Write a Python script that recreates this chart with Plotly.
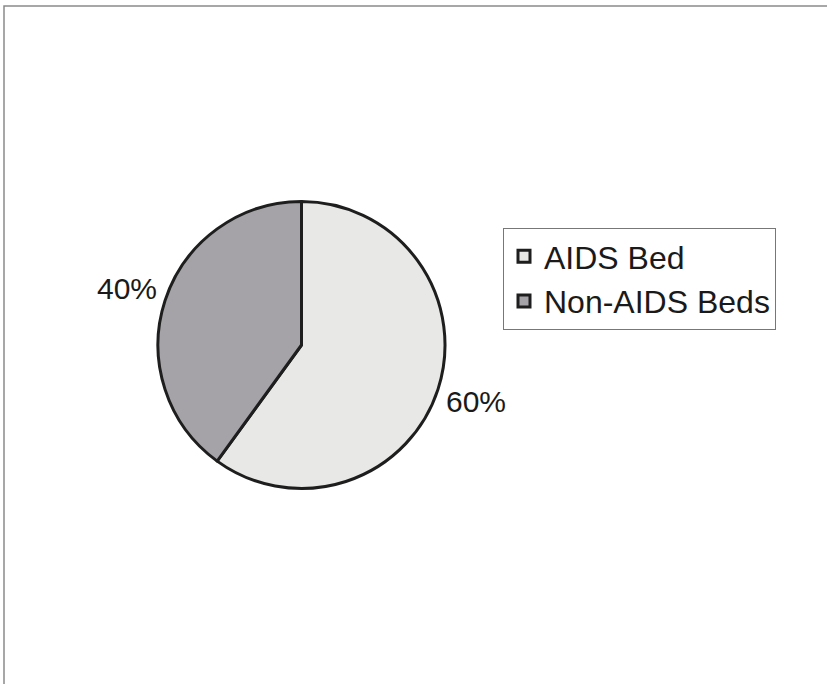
import math
import plotly.graph_objects as go

labels = ["AIDS Bed", "Non-AIDS Beds"]
values = [60, 40]
colors = ["#e8e8e6", "#a6a3a8"]

W, H = 827, 684
cx, cy, R = 301.5, 345.0, 143.5  # pixel centre and radius of the pie
FONT = "Liberation Sans, Arial, sans-serif"

fig = go.Figure()
fig.add_trace(go.Pie(
    labels=labels, values=values, sort=False, direction="clockwise", rotation=0,
    marker=dict(colors=colors, line=dict(color="#1e1e1e", width=3)),
    textinfo="none", hoverinfo="label+percent",
    domain=dict(x=[(cx - R) / W, (cx + R) / W], y=[1 - (cy + R) / H, 1 - (cy - R) / H]),
))

# percentage labels placed outside along each slice's mid-angle
total = sum(values)
cum = 0
annotations = []
for v in values:
    mid = (cum + v / 2) / total * 2 * math.pi
    cum += v
    rr = R * 1.275
    px = cx + rr * math.sin(mid)
    py = cy - rr * math.cos(mid)
    annotations.append(dict(
        x=px / W, y=1 - py / H, xref="paper", yref="paper",
        text=f"{round(v / total * 100)}%", showarrow=False,
        xanchor="center", yanchor="middle",
        font=dict(family=FONT, size=30, color="#1a1a1a"),
    ))

fig.update_layout(
    width=W, height=H, margin=dict(l=0, r=0, t=0, b=0),
    paper_bgcolor="white", plot_bgcolor="white",
    showlegend=True,
    legend=dict(
        x=503 / W, y=1 - 228 / H, xanchor="left", yanchor="top",
        bordercolor="#777777", borderwidth=1, bgcolor="white",
        font=dict(family=FONT, size=32, color="#1a1a1a"),
        tracegroupgap=0,
    ),
    annotations=annotations,
    shapes=[dict(type="rect", xref="paper", yref="paper",
                 x0=4 / W, x1=1.05, y0=-0.05, y1=1 - 6 / H,
                 line=dict(color="#8a8a8a", width=1.5))],
)

fig.write_html("out.html")
